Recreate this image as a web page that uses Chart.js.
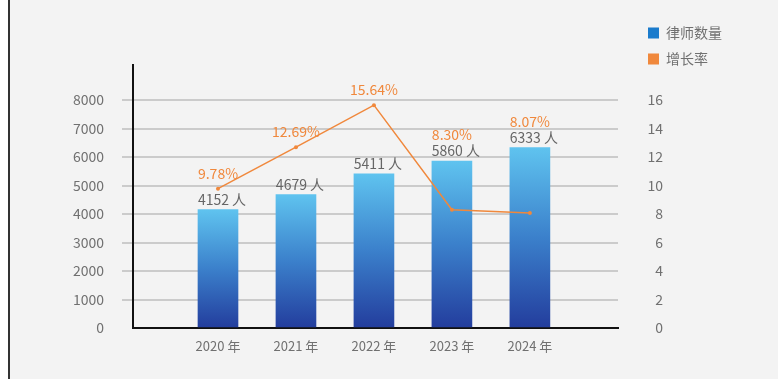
<!DOCTYPE html>
<html>
<head>
<meta charset="utf-8">
<script src="https://cdn.jsdelivr.net/npm/chart.js@4/dist/chart.umd.min.js"></script>
<style>
  html, body { margin: 0; padding: 0; width: 778px; height: 379px; overflow: hidden; background: #ffffff; }
  #bg { position: absolute; left: 8px; top: 0; width: 770px; height: 379px; background: #f3f3f3; border-left: 2px solid #333; box-sizing: border-box; }
  #wrap { position: absolute; left: 0; top: 0; width: 778px; height: 379px; }
</style>
</head>
<body>
<div id="bg"></div>
<div id="wrap"><canvas id="c" width="778" height="379"></canvas></div>
<script>
const categories = ['2020 年', '2021 年', '2022 年', '2023 年', '2024 年'];
const lawyerCounts = [4152, 4679, 5411, 5860, 6333];
const growthRates = [9.78, 12.69, 15.64, 8.30, 8.07];
const leftTicks = [0, 1000, 2000, 3000, 4000, 5000, 6000, 7000, 8000];
const rightTicks = [0, 2, 4, 6, 8, 10, 12, 14, 16];
const seriesNames = ['律师数量', '增长率'];
const seriesColors = ['#1a7bcc', '#f0883c'];

const FONT = '"Noto Sans CJK SC", "Noto Sans", sans-serif';
const TXT = '#707070';

const labelPlugin = {
  id: 'valueLabels',
  afterDatasetsDraw(chart) {
    const c = chart.ctx;
    const bars = chart.getDatasetMeta(0).data;
    const pts = chart.getDatasetMeta(1).data;
    c.save();
    c.textAlign = 'center';
    c.textBaseline = 'middle';
    c.font = '14px ' + FONT;
    bars.forEach((bar, i) => {
      const by = bar.y - 10;
      c.fillStyle = '#666666';
      c.fillText(lawyerCounts[i] + ' 人', bar.x + 4, by);
      const pt = pts[i];
      const py = Math.min(pt.y - 15, by - 16);
      c.fillStyle = seriesColors[1];
      c.fillText(growthRates[i].toFixed(2) + '%', bar.x, py);
    });
    c.restore();
  }
};

const legendPlugin = {
  id: 'customLegend',
  afterDraw(chart) {
    const c = chart.ctx;
    c.save();
    c.font = '14px ' + FONT;
    c.textBaseline = 'middle';
    c.textAlign = 'left';
    seriesNames.forEach((name, i) => {
      const cy = 33 + i * 26;
      c.fillStyle = seriesColors[i];
      c.fillRect(648, cy - 5.5, 11, 11);
      c.fillStyle = TXT;
      c.fillText(name, 666, cy);
    });
    c.restore();
  }
};

const barGradient = (ctx) => {
  const chart = ctx.chart;
  const area = chart.chartArea;
  if (!area || !ctx.parsed) return '#3a8ad6';
  const ys = chart.scales.y;
  const top = ys.getPixelForValue(ctx.parsed.y);
  const bot = ys.getPixelForValue(0);
  const g = chart.ctx.createLinearGradient(0, top, 0, bot);
  g.addColorStop(0, '#5fc3ef');
  g.addColorStop(0.5, '#3b80cb');
  g.addColorStop(1, '#233d9d');
  return g;
};

new Chart(document.getElementById('c'), {
  data: {
    datasets: [
      {
        type: 'bar',
        label: seriesNames[0],
        data: lawyerCounts.map((v, i) => ({ x: i, y: v })),
        backgroundColor: barGradient,
        barThickness: 40,
        yAxisID: 'y',
        order: 2
      },
      {
        type: 'line',
        label: seriesNames[1],
        data: growthRates.map((v, i) => ({ x: i, y: v })),
        borderColor: seriesColors[1],
        backgroundColor: seriesColors[1],
        borderWidth: 1.5,
        pointRadius: 2,
        pointBorderWidth: 0,
        tension: 0,
        yAxisID: 'y1',
        order: 1
      }
    ]
  },
  options: {
    responsive: false,
    animation: false,
    layout: { padding: { top: 65, left: 0, right: 115, bottom: 0 } },
    plugins: { legend: { display: false }, tooltip: { enabled: false } },
    scales: {
      x: {
        type: 'linear',
        position: 'bottom',
        offset: false,
        min: -1.09,
        max: 5.13,
        afterBuildTicks: s => { s.ticks = categories.map((_, i) => ({ value: i })); },
        afterFit: s => { s.height = 51; },
        grid: { display: false, drawTicks: false, offset: false },
        border: { display: true, color: '#111111', width: 2 },
        ticks: {
          autoSkip: false,
          maxRotation: 0,
          padding: 10,
          color: TXT,
          font: { size: 13, family: FONT },
          callback: v => categories[v] ?? ''
        }
      },
      y: {
        position: 'left',
        min: 0,
        max: 8000 * 263 / 228,
        afterBuildTicks: s => { s.ticks = leftTicks.map(v => ({ value: v })); },
        afterFit: s => { s.width = 133; },
        grid: {
          color: c => (c.tick && c.tick.value === 0) ? 'rgba(0,0,0,0)' : '#cbcbcb',
          lineWidth: 2,
          drawTicks: true,
          tickLength: 11
        },
        border: { display: true, color: '#111111', width: 2 },
        ticks: { padding: 18, color: TXT, font: { size: 14, family: FONT }, callback: v => String(v) }
      },
      y1: {
        position: 'right',
        min: 0,
        max: 16 * 263 / 228,
        afterBuildTicks: s => { s.ticks = rightTicks.map(v => ({ value: v })); },
        afterFit: s => { s.width = 45; },
        grid: { display: false, drawTicks: false },
        border: { display: false },
        ticks: { crossAlign: 'far', padding: 30, color: TXT, font: { size: 14, family: FONT }, callback: v => String(v) }
      }
    }
  },
  plugins: [labelPlugin, legendPlugin]
});
</script>
</body>
</html>
